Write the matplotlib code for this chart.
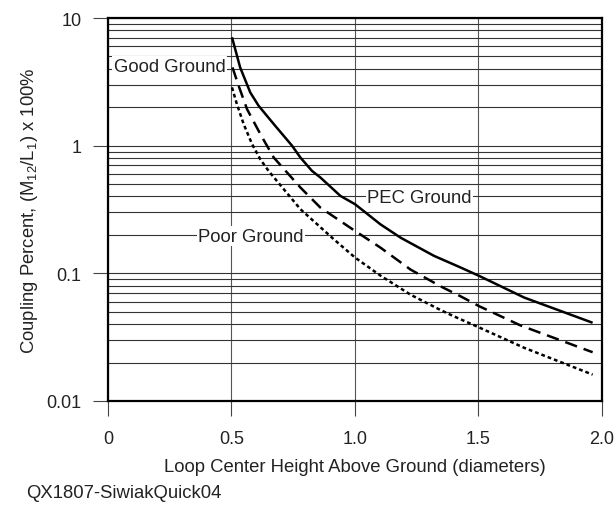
import matplotlib
matplotlib.use("Agg")
import matplotlib.pyplot as plt
from matplotlib.ticker import FixedLocator, FixedFormatter, LogLocator, NullFormatter

plt.rcParams['font.family'] = ['Liberation Sans', 'DejaVu Sans']
plt.rcParams['mathtext.fontset'] = 'custom'
plt.rcParams['mathtext.rm'] = 'Liberation Sans'
plt.rcParams['mathtext.it'] = 'Liberation Sans'

# --- data ---
pec_x = [0.502, 0.535, 0.576, 0.61, 0.677, 0.745, 0.779, 0.826, 0.86, 0.941, 1.0,
         1.103, 1.185, 1.32, 1.428, 1.505, 1.685, 1.962]
pec_y = [7.06, 4.1, 2.61, 2.05, 1.43, 1.0, 0.807, 0.634, 0.563, 0.404, 0.348,
         0.242, 0.19, 0.137, 0.111, 0.095, 0.0646, 0.041]

good_x = [0.504, 0.529, 0.563, 0.617, 0.671, 0.725, 0.779, 0.86, 1.0, 1.103,
          1.225, 1.347, 1.428, 1.505, 1.671, 1.962]
good_y = [4.1, 2.94, 1.93, 1.23, 0.807, 0.616, 0.47, 0.327, 0.215, 0.159,
          0.107, 0.079, 0.066, 0.055, 0.039, 0.0241]

poor_x = [0.502, 0.522, 0.549, 0.583, 0.617, 0.65, 0.779, 0.914, 1.0, 1.103,
          1.225, 1.347, 1.401, 1.505, 1.685, 1.962]
poor_y = [2.86, 2.11, 1.48, 1.03, 0.78, 0.634, 0.318, 0.185, 0.133, 0.096,
          0.068, 0.0515, 0.046, 0.0375, 0.0261, 0.0161]

x_ticks = [0, 0.5, 1.0, 1.5, 2.0]
x_tick_labels = ['0', '0.5', '1.0', '1.5', '2.0']
y_ticks = [0.01, 0.1, 1, 10]
y_tick_labels = ['0.01', '0.1', '1', '10']

fig = plt.figure(figsize=(6.15, 5.06), dpi=100)
ax = fig.add_axes([108 / 615, 1 - 402 / 506, 494 / 615, 383 / 506])

ax.set_yscale('log')
ax.set_xlim(0, 2.0)
ax.set_ylim(0.01, 10)

ax.plot(pec_x, pec_y, color='black', lw=1.8, solid_capstyle='butt', zorder=3)
ax.plot(good_x, good_y, color='black', lw=1.8, dashes=(5, 2.8), zorder=3)
ax.plot(poor_x, poor_y, color='black', lw=1.8, dashes=(1.5, 1.2), zorder=3)

# grid
ax.yaxis.set_major_locator(FixedLocator(y_ticks))
ax.yaxis.set_major_formatter(FixedFormatter(y_tick_labels))
ax.yaxis.set_minor_locator(LogLocator(base=10, subs=range(2, 10)))
ax.yaxis.set_minor_formatter(NullFormatter())
ax.xaxis.set_major_locator(FixedLocator(x_ticks))
ax.xaxis.set_major_formatter(FixedFormatter(x_tick_labels))
ax.grid(True, which='both', axis='y', color='#333333', lw=0.8, zorder=1)
ax.grid(True, which='major', axis='x', color='#555555', lw=0.8, zorder=1)

ax.tick_params(axis='both', which='major', direction='out', length=11,
               width=0.8, color='#444444', labelsize=13, pad=8,
               labelcolor='#222222')
ax.tick_params(axis='x', which='major', pad=10)
ax.tick_params(axis='y', which='minor', length=0)
for s in ax.spines.values():
    s.set_linewidth(1.6)

lbl_box = dict(facecolor='white', edgecolor='none', pad=1)
ax.text(0.25, 4.2, 'Good Ground', fontsize=13.3, ha='center', va='center',
        color='#222222', bbox=lbl_box, zorder=2)
ax.text(0.578, 0.195, 'Poor Ground', fontsize=13.3, ha='center', va='center',
        color='#222222', bbox=lbl_box, zorder=2)
ax.text(1.262, 0.39, 'PEC Ground', fontsize=13.3, ha='center', va='center',
        color='#222222', bbox=lbl_box, zorder=2)

ax.set_xlabel('Loop Center Height Above Ground (diameters)', fontsize=13.3,
              color='#222222', labelpad=8)
ax.set_ylabel(r'Coupling Percent, (M$_{12}$/L$_{1}$) x 100%', fontsize=13.3,
              color='#222222', labelpad=5)

fig.text(26 / 615, 1 - 494 / 506, 'QX1807-SiwiakQuick04', fontsize=13.3,
         color='#222222', ha='left', va='center')

fig.savefig('out.png', dpi=100)
